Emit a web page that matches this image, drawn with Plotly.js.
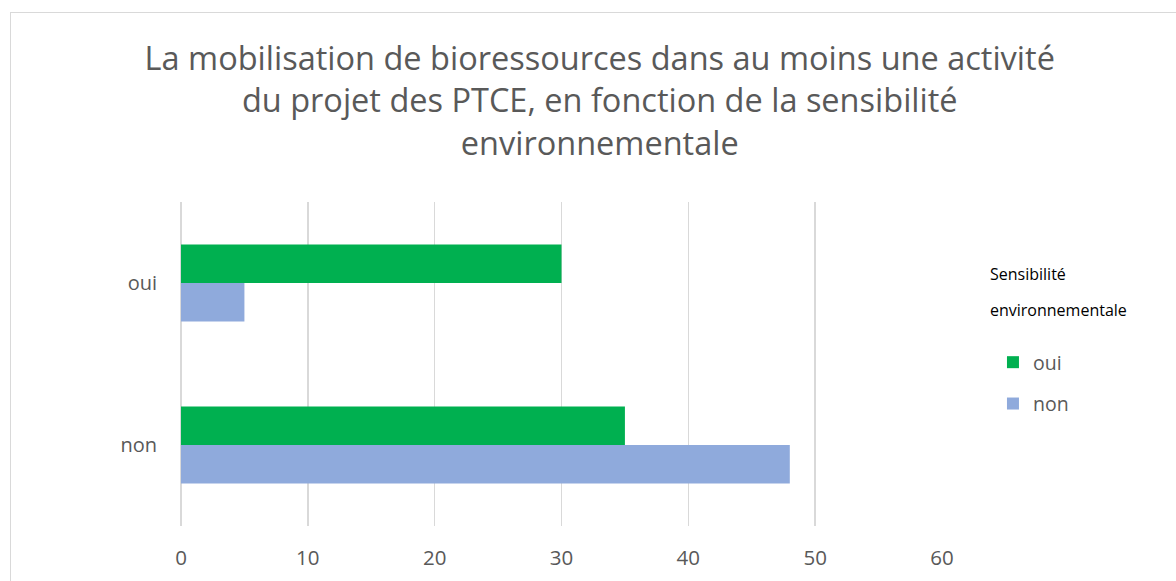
<!DOCTYPE html>
<html><head><meta charset="utf-8">
<script src="https://cdn.plot.ly/plotly-3.0.1.min.js"></script>
<style>
html,body{margin:0;padding:0;background:#fff;overflow:hidden;}
#chart{width:1176px;height:581px;position:absolute;left:0;top:0;}
#frame{position:absolute;left:10px;top:12px;width:1200px;height:620px;border:1px solid #d9d9d9;pointer-events:none;box-sizing:border-box;}
</style></head>
<body>
<div id="frame"></div>
<div id="chart"></div>
<script>
const categories = ["oui", "non"];
const seriesNames = ["oui", "non"];
const valuesOui = [30, 35];
const valuesNon = [5, 48];
const colors = {oui: "#00B050", non: "#8FAADC"};
const xTicks = [0, 10, 20, 30, 40, 50, 60];

const traces = [
  {type: "bar", orientation: "h", name: seriesNames[0], y: categories, x: valuesOui,
   marker: {color: colors.oui}, legendgroup: "a", hoverinfo: "x"},
  {type: "bar", orientation: "h", name: seriesNames[1], y: categories, x: valuesNon,
   marker: {color: colors.non}, legendgroup: "b", hoverinfo: "x"}
];

const plotTop = 202, plotH = 324, plotL = 180.5, plotW = 761.5, H = 581;
function py(pix){ return 1 - (pix - plotTop)/plotH; }
function px(pix){ return (pix - plotL)/plotW; }

const layout = {
  width: 1176, height: H,
  paper_bgcolor: "rgba(0,0,0,0)", plot_bgcolor: "rgba(0,0,0,0)",
  margin: {l: plotL, r: 1176 - plotL - plotW, t: plotTop, b: H - plotTop - plotH, pad: 0},
  barmode: "group", bargap: 0.525, bargroupgap: 0,
  font: {family: "Open Sans, sans-serif", color: "#595959"},
  title: {
    text: "La mobilisation de bioressources dans au moins une activité<br>du projet des PTCE, en fonction de la sensibilité<br>environnementale",
    font: {size: 32.5, color: "#595959", family: "Open Sans, sans-serif"},
    x: 0.51, xanchor: "center", yref: "container", y: 1 - 70/H, yanchor: "top"
  },
  xaxis: {
    range: [0, 60], tickvals: xTicks, ticktext: xTicks.map(String),
    showgrid: true, gridcolor: "#d9d9d9", gridwidth: 1.5,
    zeroline: true, zerolinecolor: "#d9d9d9", zerolinewidth: 1.5,
    showline: false, ticks: "", tickfont: {size: 20.5, color: "#595959"},
    ticklabelstandoff: 17, fixedrange: true
  },
  yaxis: {
    type: "category", categoryorder: "array", categoryarray: categories,
    range: [1.5, -0.5], showgrid: false, zeroline: false, showline: false,
    ticks: "", tickfont: {size: 20, color: "#595959"}, ticklabelstandoff: 23,
    fixedrange: true
  },
  showlegend: true,
  legend: {
    x: px(993), xanchor: "left", y: py(343), yanchor: "top",
    traceorder: "grouped", tracegroupgap: 13,
    font: {size: 19.5, color: "#595959"}, bgcolor: "rgba(0,0,0,0)"
  },
  annotations: [
    {text: "Sensibilité", xref: "paper", yref: "paper", x: px(988), xanchor: "left",
     y: py(274), yanchor: "middle", showarrow: false, font: {size: 16, color: "#000"}},
    {text: "environnementale", xref: "paper", yref: "paper", x: px(988), xanchor: "left",
     y: py(310), yanchor: "middle", showarrow: false, font: {size: 16, color: "#000"}}
  ]
};

Plotly.newPlot("chart", traces, layout, {displayModeBar: false, staticPlot: true});
</script>
</body></html>
